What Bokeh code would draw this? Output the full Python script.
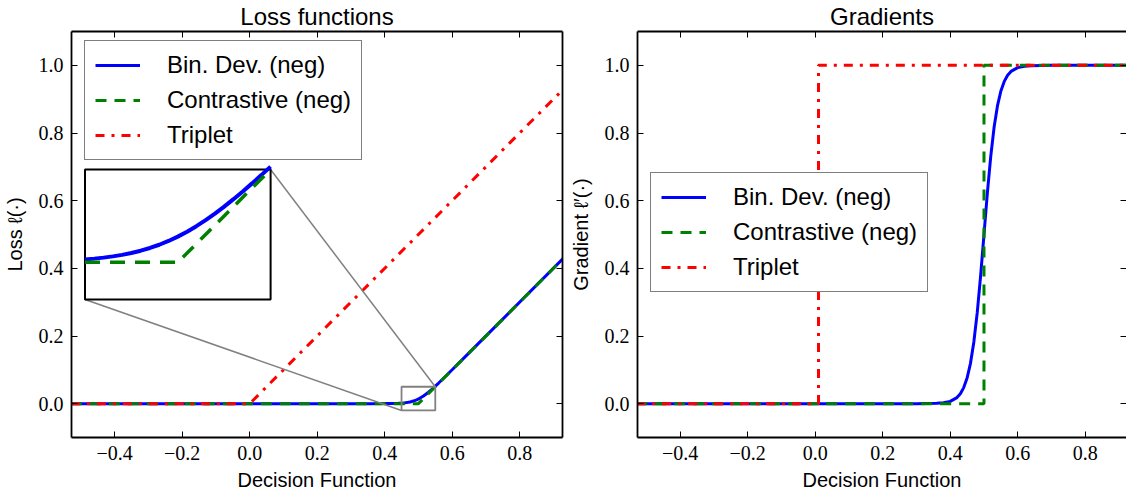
import numpy as np
from bokeh.plotting import figure
from bokeh.layouts import row
from bokeh.models import Range1d, FixedTicker, LinearAxis, Legend, LegendItem
from bokeh.embed import file_html
from bokeh.resources import INLINE

# ---- loss curves (decision function -> loss) ----
bindev_x = [-0.53, 0.30, 0.36, 0.40, 0.42, 0.44, 0.445, 0.45, 0.455, 0.46, 0.465,
            0.47, 0.475, 0.48, 0.485, 0.49, 0.495, 0.50, 0.505, 0.51, 0.515, 0.52,
            0.525, 0.53, 0.535, 0.54, 0.545, 0.55, 0.555, 0.56, 0.58, 0.60, 0.65, 0.93]
bindev_loss = [0.0, 0.0, 0.00002, 0.00013, 0.00036, 0.00097, 0.00124, 0.00158, 0.00200,
               0.00254, 0.00321, 0.00403, 0.00504, 0.00627, 0.00774, 0.00948, 0.01152,
               0.01386, 0.01652, 0.01948, 0.02274, 0.02627, 0.03004, 0.03403, 0.03821,
               0.04254, 0.04700, 0.05158, 0.05624, 0.06097, 0.08036, 0.10013, 0.15001, 0.43]
contr_x = [-0.53, 0.45, 0.50, 0.55, 0.93]
contr_loss = [0.0, 0.0, 0.0, 0.05, 0.43]
triplet_x = [-0.53, 0.0, 0.93]
triplet_loss = [0.0, 0.0, 0.93]

# ---- gradients ----
bindev_gx = [-0.53, 0.30, 0.36, 0.38, 0.40, 0.42, 0.43, 0.44, 0.45, 0.46, 0.47, 0.48,
             0.49, 0.50, 0.51, 0.52, 0.53, 0.54, 0.55, 0.56, 0.57, 0.58, 0.60, 0.62,
             0.64, 0.70, 0.93]
bindev_grad = [0.0, 0.00005, 0.00091, 0.00247, 0.00669, 0.01799, 0.02931, 0.04743,
               0.07586, 0.11920, 0.18243, 0.26894, 0.37754, 0.5, 0.62246, 0.73106,
               0.81757, 0.88080, 0.92414, 0.95257, 0.97069, 0.98201, 0.99331, 0.99753,
               0.99909, 0.99995, 1.0]
contr_gx = [-0.53, 0.50, 0.50, 0.93]
contr_grad = [0.0, 0.0, 1.0, 1.0]
triplet_gx = [-0.53, 0.01, 0.01, 0.93]
triplet_grad = [0.0, 0.0, 1.0, 1.0]

series_names = ["Bin. Dev. (neg)", "Contrastive (neg)", "Triplet"]
x_ticks = [-0.4, -0.2, 0.0, 0.2, 0.4, 0.6, 0.8]
x_tick_labels = ["\u22120.4", "\u22120.2", "0.0", "0.2", "0.4", "0.6", "0.8"]
y_ticks = [0.0, 0.2, 0.4, 0.6, 0.8, 1.0]
y_tick_labels = ["0.0", "0.2", "0.4", "0.6", "0.8", "1.0"]

# zoomed window and where its magnified copy sits on the loss panel
ZOOM_X = (0.45, 0.55)
ZOOM_Y = (-0.02, 0.05)
INSET_X = (-0.488, 0.062)
INSET_Y = (0.308, 0.692)

BLUE, GREEN, RED, GREY = "#0000ff", "#008000", "#ff0000", "#808080"
SANS, SERIF = "Liberation Sans", "Liberation Serif"


def make_panel(width, x_range, border_right, title, ylabel, frame_right_line=True):
    p = figure(width=width, height=496, x_range=x_range, y_range=Range1d(-0.1, 1.1),
               output_backend="svg", toolbar_location=None,
               min_border_left=71, min_border_right=border_right,
               min_border_top=31, min_border_bottom=59,
               x_axis_label="Decision Function", y_axis_label=ylabel)
    p.title.text = title
    p.title.align = "center"
    p.title.vertical_align = "top"
    p.title.text_font = SANS
    p.title.text_font_size = "24px"
    p.title.text_font_style = "normal"
    p.title.text_color = "black"
    p.title.standoff = 0
    p.grid.visible = False
    p.outline_line_color = None
    p.background_fill_color = "white"
    p.border_fill_color = "white"
    # tick-only axes on the top and right edges of the frame
    top_ax = LinearAxis(ticker=FixedTicker(ticks=x_ticks),
                        major_label_overrides={t: "" for t in x_ticks})
    right_ax = LinearAxis(ticker=FixedTicker(ticks=y_ticks),
                          major_label_overrides={t: "" for t in y_ticks})
    p.add_layout(top_ax, "above")
    p.add_layout(right_ax, "right")
    p.below[0].ticker = FixedTicker(ticks=x_ticks)
    p.below[0].major_label_overrides = dict(zip(x_ticks, x_tick_labels))
    p.left[0].ticker = FixedTicker(ticks=y_ticks)
    p.left[0].major_label_overrides = dict(zip(y_ticks, y_tick_labels))
    for ax in p.axis:
        ax.major_tick_in = 6
        ax.major_tick_out = 0
        ax.major_tick_line_width = 1
        ax.minor_tick_line_color = None
        ax.axis_line_width = 1.8
        ax.axis_line_color = "black"
        ax.major_label_text_font = SERIF
        ax.major_label_text_font_size = "20px"
        ax.major_label_text_color = "black"
        ax.major_label_standoff = 8
        ax.axis_label_text_font = SANS
        ax.axis_label_text_font_size = "20px"
        ax.axis_label_text_font_style = "normal"
        ax.axis_label_text_color = "black"
    p.below[0].axis_label_standoff = 6
    p.left[0].axis_label_standoff = 10
    for ax in (top_ax, right_ax):
        ax.major_label_text_font_size = "1px"
        ax.major_label_standoff = 0
    if not frame_right_line:
        right_ax.axis_line_color = None
    return p


def add_legend(p, renderers, loc):
    legend = Legend(items=[LegendItem(label=n, renderers=[r]) for n, r in zip(series_names, renderers)],
                    location=loc, padding=10, spacing=7, glyph_width=45, glyph_height=26,
                    label_standoff=27, label_text_font=SANS, label_text_font_size="24px",
                    label_text_color="black", label_height=26,
                    border_line_color="black", border_line_width=1.5,
                    background_fill_color="white", background_fill_alpha=1.0, margin=0)
    p.add_layout(legend)


# ---------------- loss panel ----------------
p1 = make_panel(566, Range1d(-0.528, 0.927), 4, "Loss functions", "Loss \u2113(\u00b7)")
r_b = p1.line(bindev_x, bindev_loss, line_color=BLUE, line_width=3)
r_c = p1.line(contr_x, contr_loss, line_color=GREEN, line_width=3, line_dash="11 8")
r_t = p1.line(triplet_x, triplet_loss, line_color=RED, line_width=3, line_dash="9 7 3 7")

# zoom window and connectors to the magnified copy
p1.quad(left=[ZOOM_X[0]], right=[ZOOM_X[1]], bottom=[ZOOM_Y[0]], top=[ZOOM_Y[1]],
        fill_color=None, line_color=GREY, line_width=1.8)
p1.segment(x0=[ZOOM_X[0], ZOOM_X[1]], y0=[ZOOM_Y[0], ZOOM_Y[1]],
           x1=[INSET_X[0], INSET_X[1]], y1=[INSET_Y[0], INSET_Y[1]],
           line_color=GREY, line_width=1.5)

inset = p1.subplot(x_source=Range1d(*ZOOM_X), y_source=Range1d(*ZOOM_Y),
                   x_target=Range1d(*INSET_X), y_target=Range1d(*INSET_Y))
inset.quad(left=[ZOOM_X[0]], right=[ZOOM_X[1]], bottom=[ZOOM_Y[0]], top=[ZOOM_Y[1]],
           fill_color="white", line_color="black", line_width=2)
bx, by = np.array(bindev_x), np.array(bindev_loss)
sel_b = (bx >= ZOOM_X[0] - 1e-9) & (bx <= ZOOM_X[1] + 1e-9)
cx, cy = np.array(contr_x), np.array(contr_loss)
sel_c = (cx >= ZOOM_X[0] - 1e-9) & (cx <= ZOOM_X[1] + 1e-9)
inset.line(bx[sel_b], by[sel_b], line_color=BLUE, line_width=4)
inset.line(cx[sel_c], cy[sel_c], line_color=GREEN, line_width=3.5, line_dash="15 10")

add_legend(p1, [r_b, r_c, r_t], (13, 277))

# ---------------- gradient panel ----------------
p2 = make_panel(560, Range1d(-0.526, 0.922), 0, "Gradients", "Gradient \u2113\u2032(\u00b7)",
                frame_right_line=False)
g_b = p2.line(bindev_gx, bindev_grad, line_color=BLUE, line_width=3)
g_c = p2.line(contr_gx, contr_grad, line_color=GREEN, line_width=3, line_dash="11 8")
g_t = p2.line(triplet_gx, triplet_grad, line_color=RED, line_width=3, line_dash="9 7 3 7")
add_legend(p2, [g_b, g_c, g_t], (13, 145))

layout = row(p1, p2)
open("out.html", "w").write(file_html(layout, INLINE))
